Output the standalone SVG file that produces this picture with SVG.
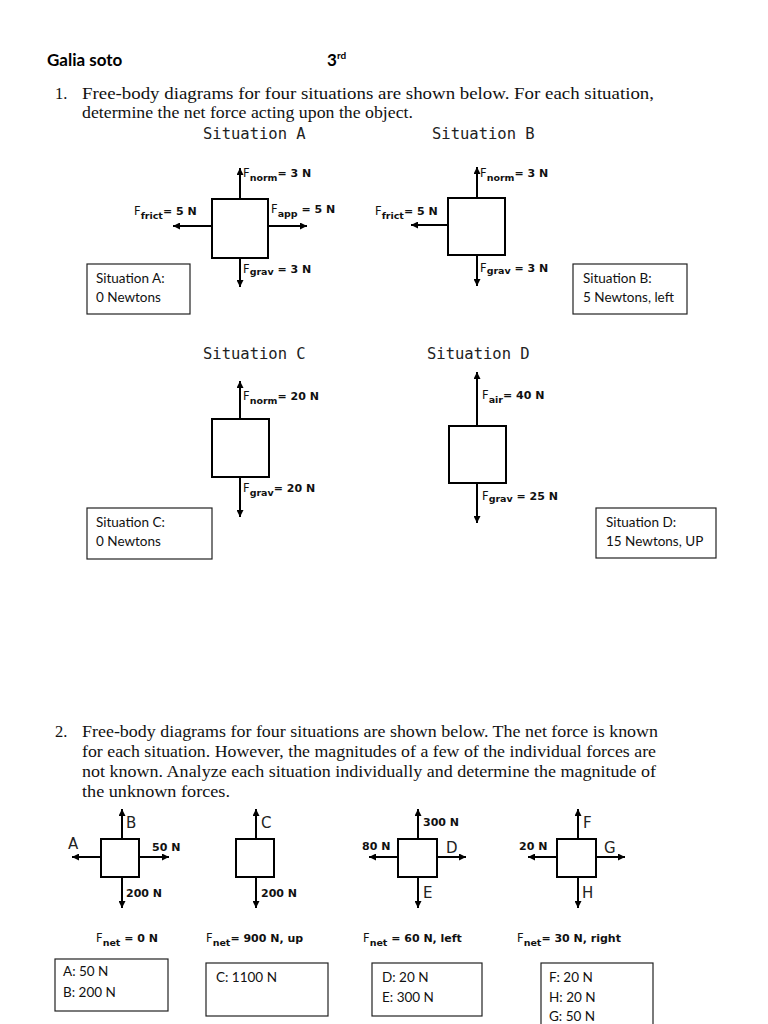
<svg xmlns="http://www.w3.org/2000/svg" width="768" height="1024" viewBox="0 0 768 1024">
<defs>
<marker id="ah" markerUnits="userSpaceOnUse" markerWidth="8" markerHeight="7" refX="7" refY="3.5" orient="auto">
<path d="M0,0 L7,3.5 L0,7 z" fill="#000"/>
</marker>
<style>
.q{font-family:"Liberation Serif","Times New Roman",serif;font-size:16.5px;fill:#111}
.hd{font-family:"Lato","Liberation Sans",sans-serif;font-weight:bold;font-size:17px;fill:#000}
.ttl{font-family:"DejaVu Sans Mono",monospace;font-size:15.5px;fill:#222}
.lb{font-family:"DejaVu Sans",sans-serif;font-size:11px;font-weight:bold;fill:#111}
.lbf{font-weight:normal;font-size:11.5px}
.sub{font-size:9.5px;font-weight:bold}
.ltr{font-family:"DejaVu Sans",sans-serif;font-size:15px;fill:#222}
.ans{font-family:"Lato","Liberation Sans",sans-serif;font-size:13.5px;fill:#111}
.box{fill:#fff;stroke:#000;stroke-width:2}
.abox{fill:#fff;stroke:#222;stroke-width:1.2}
.f{stroke:#000;stroke-width:2;fill:none;marker-end:url(#ah)}
</style>
</defs>
<rect width="768" height="1024" fill="#fff"/>

<g id="header">
<text class="hd" x="47" y="66">Galia soto</text>
<text class="hd" x="327" y="66">3<tspan font-size="10" dy="-7">rd</tspan></text>
</g>

<g id="question1">
<text class="q" x="55" y="99">1.</text>
<text class="q" x="82" y="99" textLength="572" lengthAdjust="spacingAndGlyphs">Free-body diagrams for four situations are shown below. For each situation,</text>
<text class="q" x="82" y="118" textLength="331" lengthAdjust="spacingAndGlyphs">determine the net force acting upon the object.</text>
<text class="ttl" x="203" y="139">Situation A</text>
<text class="ttl" x="432" y="139">Situation B</text>
<text class="ttl" x="203" y="359">Situation C</text>
<text class="ttl" x="427" y="359">Situation D</text>
</g>

<g id="connectors">
<!-- Situation A -->
<line class="f" x1="240" y1="199" x2="240" y2="168"/>
<line class="f" x1="240" y1="258" x2="240" y2="287"/>
<line class="f" x1="212" y1="226" x2="173" y2="226"/>
<line class="f" x1="268" y1="226" x2="307" y2="226"/>
<!-- Situation B -->
<line class="f" x1="477" y1="198" x2="477" y2="167"/>
<line class="f" x1="477" y1="255" x2="477" y2="286"/>
<line class="f" x1="448" y1="225" x2="411" y2="225"/>
<!-- Situation C -->
<line class="f" x1="240" y1="419" x2="240" y2="381"/>
<line class="f" x1="240" y1="477" x2="240" y2="517"/>
<!-- Situation D -->
<line class="f" x1="477" y1="426" x2="477" y2="372"/>
<line class="f" x1="477" y1="483" x2="477" y2="523"/>
<!-- Q2 diagram 1 -->
<line class="f" x1="122" y1="839" x2="122" y2="809"/>
<line class="f" x1="122" y1="877" x2="122" y2="908"/>
<line class="f" x1="101" y1="857" x2="72" y2="857"/>
<line class="f" x1="139" y1="857" x2="169" y2="857"/>
<!-- Q2 diagram 2 -->
<line class="f" x1="256" y1="839" x2="256" y2="809"/>
<line class="f" x1="256" y1="877" x2="256" y2="908"/>
<!-- Q2 diagram 3 -->
<line class="f" x1="418" y1="839" x2="418" y2="809"/>
<line class="f" x1="418" y1="877" x2="418" y2="908"/>
<line class="f" x1="398" y1="857" x2="369" y2="857"/>
<line class="f" x1="437" y1="857" x2="466" y2="857"/>
<!-- Q2 diagram 4 -->
<line class="f" x1="578" y1="839" x2="578" y2="809"/>
<line class="f" x1="578" y1="877" x2="578" y2="908"/>
<line class="f" x1="557" y1="857" x2="528" y2="857"/>
<line class="f" x1="596" y1="857" x2="625" y2="857"/>
</g>

<g id="sitA">
<rect class="box" x="212" y="199" width="56" height="59"/>
<text class="lb" x="243" y="177"><tspan class="lbf">F</tspan><tspan class="sub" dy="4">norm</tspan><tspan dy="-4">= 3 N</tspan></text>
<text class="lb" x="134" y="215"><tspan class="lbf">F</tspan><tspan class="sub" dy="4">frict</tspan><tspan dy="-4">= 5 N</tspan></text>
<text class="lb" x="271" y="213"><tspan class="lbf">F</tspan><tspan class="sub" dy="4">app</tspan><tspan dy="-4"> = 5 N</tspan></text>
<text class="lb" x="243" y="273"><tspan class="lbf">F</tspan><tspan class="sub" dy="2">grav</tspan><tspan dy="-2"> = 3 N</tspan></text>
</g>
<g id="ansA">
<rect class="abox" x="87" y="264" width="103" height="50"/>
<text class="ans" x="96" y="283">Situation A:</text>
<text class="ans" x="96" y="302">0 Newtons</text>
</g>

<g id="sitB">
<rect class="box" x="448" y="198" width="57" height="57"/>
<text class="lb" x="480" y="177"><tspan class="lbf">F</tspan><tspan class="sub" dy="4">norm</tspan><tspan dy="-4">= 3 N</tspan></text>
<text class="lb" x="375" y="215"><tspan class="lbf">F</tspan><tspan class="sub" dy="4">frict</tspan><tspan dy="-4">= 5 N</tspan></text>
<text class="lb" x="480" y="272"><tspan class="lbf">F</tspan><tspan class="sub" dy="2">grav</tspan><tspan dy="-2"> = 3 N</tspan></text>
</g>
<g id="ansB">
<rect class="abox" x="573" y="264" width="114" height="50"/>
<text class="ans" x="583" y="283">Situation B:</text>
<text class="ans" x="583" y="302">5 Newtons, left</text>
</g>

<g id="sitC">
<rect class="box" x="212" y="419" width="57" height="58"/>
<text class="lb" x="243" y="400"><tspan class="lbf">F</tspan><tspan class="sub" dy="4">norm</tspan><tspan dy="-4">= 20 N</tspan></text>
<text class="lb" x="243" y="492"><tspan class="lbf">F</tspan><tspan class="sub" dy="4">grav</tspan><tspan dy="-4">= 20 N</tspan></text>
</g>
<g id="ansC">
<rect class="abox" x="87" y="508" width="125" height="51"/>
<text class="ans" x="96" y="527">Situation C:</text>
<text class="ans" x="96" y="546">0 Newtons</text>
</g>

<g id="sitD">
<rect class="box" x="449" y="426" width="57" height="57"/>
<text class="lb" x="482" y="399"><tspan class="lbf">F</tspan><tspan class="sub" dy="4">air</tspan><tspan dy="-4">= 40 N</tspan></text>
<text class="lb" x="482" y="500"><tspan class="lbf">F</tspan><tspan class="sub" dy="2">grav</tspan><tspan dy="-2"> = 25 N</tspan></text>
</g>
<g id="ansD">
<rect class="abox" x="596" y="508" width="120" height="50"/>
<text class="ans" x="606" y="527">Situation D:</text>
<text class="ans" x="606" y="546">15 Newtons, UP</text>
</g>

<g id="question2">
<text class="q" x="55" y="737">2.</text>
<text class="q" x="82" y="737" textLength="576" lengthAdjust="spacingAndGlyphs">Free-body diagrams for four situations are shown below. The net force is known</text>
<text class="q" x="82" y="757" textLength="574" lengthAdjust="spacingAndGlyphs">for each situation. However, the magnitudes of a few of the individual forces are</text>
<text class="q" x="82" y="777" textLength="574" lengthAdjust="spacingAndGlyphs">not known. Analyze each situation individually and determine the magnitude of</text>
<text class="q" x="82" y="797" textLength="148" lengthAdjust="spacingAndGlyphs">the unknown forces.</text>
</g>

<g id="q2d1">
<rect class="box" x="101" y="839" width="38" height="38"/>
<text class="ltr" x="126" y="828">B</text>
<text class="ltr" x="68" y="849">A</text>
<text class="lb" x="152" y="851">50 N</text>
<text class="lb" x="126" y="897">200 N</text>
<text class="lb" x="96" y="942"><tspan class="lbf">F</tspan><tspan class="sub" dy="4">net</tspan><tspan dy="-4"> = 0 N</tspan></text>
</g>
<g id="q2d2">
<rect class="box" x="236" y="839" width="38" height="38"/>
<text class="ltr" x="261" y="828">C</text>
<text class="lb" x="261" y="897">200 N</text>
<text class="lb" x="206" y="942"><tspan class="lbf">F</tspan><tspan class="sub" dy="4">net</tspan><tspan dy="-4">= 900 N, up</tspan></text>
</g>
<g id="q2d3">
<rect class="box" x="398" y="839" width="39" height="38"/>
<text class="lb" x="423" y="826">300 N</text>
<text class="lb" x="362" y="850">80 N</text>
<text class="ltr" x="446" y="853">D</text>
<text class="ltr" x="423" y="898">E</text>
<text class="lb" x="363" y="942"><tspan class="lbf">F</tspan><tspan class="sub" dy="4">net</tspan><tspan dy="-4"> = 60 N, left</tspan></text>
</g>
<g id="q2d4">
<rect class="box" x="557" y="839" width="39" height="38"/>
<text class="ltr" x="583" y="828">F</text>
<text class="lb" x="519" y="850">20 N</text>
<text class="ltr" x="604" y="853">G</text>
<text class="ltr" x="582" y="898">H</text>
<text class="lb" x="517" y="942"><tspan class="lbf">F</tspan><tspan class="sub" dy="4">net</tspan><tspan dy="-4">= 30 N, right</tspan></text>
</g>

<g id="ans2A">
<rect class="abox" x="55" y="959" width="113" height="52"/>
<text class="ans" x="63" y="976">A: 50 N</text>
<text class="ans" x="63" y="997">B: 200 N</text>
</g>
<g id="ans2C">
<rect class="abox" x="206" y="963" width="122" height="53"/>
<text class="ans" x="216" y="982">C: 1100 N</text>
</g>
<g id="ans2D">
<rect class="abox" x="372" y="963" width="110" height="53"/>
<text class="ans" x="382" y="982">D: 20 N</text>
<text class="ans" x="382" y="1002">E: 300 N</text>
</g>
<g id="ans2F">
<rect class="abox" x="541" y="963" width="112" height="70"/>
<text class="ans" x="549" y="982">F: 20 N</text>
<text class="ans" x="549" y="1002">H: 20 N</text>
<text class="ans" x="549" y="1021">G: 50 N</text>
</g>
</svg>
